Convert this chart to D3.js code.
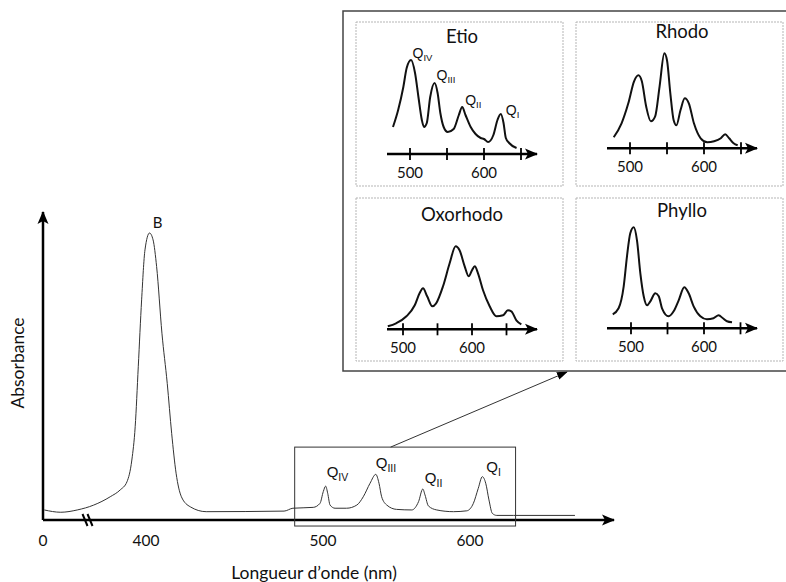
<!DOCTYPE html>
<html>
<head>
<meta charset="utf-8">
<script src="https://cdn.jsdelivr.net/npm/d3@7"></script>
<style>
  body { margin: 0; background: #fff; }
  svg { display: block; }
  text { font-family: Lato, "Open Sans", sans-serif; fill: #111; }
  .q { font-family: "Liberation Sans", Arial, sans-serif; }
</style>
</head>
<body>
<svg id="chart" width="786" height="582"></svg>
<script>
// main spectrum (wavelength nm, relative absorbance)
const mainNm = [5, 69, 133, 197, 261, 300, 326, 345, 358, 370, 383, 396, 402, 404, 406, 409, 412, 414.5, 417, 420, 425, 434,
  478, 483, 494.5, 498.3, 500.2, 501.8, 503.2, 504.8, 508.2, 516, 523, 527.4, 532, 535.9, 538.1, 539.9, 543.4, 550, 560.4,
  565, 567.9, 569.4, 571.7, 577.4, 588.7, 597.8, 602.3, 605.6, 608.4, 610.7, 612.9, 615.2, 618.2, 629.5, 671.4];
const mainAbs = [0.035, 0.027, 0.035, 0.052, 0.081, 0.105, 0.133, 0.209, 0.325, 0.534, 0.767, 0.941, 1.0, 0.976, 0.883, 0.651, 0.476, 0.302, 0.163, 0.081, 0.046, 0.029,
  0.031, 0.041, 0.044, 0.058, 0.099, 0.118, 0.093, 0.052, 0.041, 0.041, 0.052, 0.081, 0.128, 0.159, 0.128, 0.081, 0.052, 0.037, 0.035,
  0.064, 0.108, 0.087, 0.049, 0.035, 0.029, 0.032, 0.058, 0.110, 0.151, 0.128, 0.070, 0.023, 0.016, 0.016, 0.016];
const mainTicks = [0, 400, 500, 600];
const qNames = ["IV", "III", "II", "I"];
const mainQNm = [501.8, 535.9, 567.9, 608.4];
const mainQAbs = [0.118, 0.159, 0.108, 0.151];

// inset spectra
const etioNm = [477, 484, 491, 495.5, 501.4, 506.8, 511.4, 516, 519, 522.7, 527.3, 533.2, 537.3, 541, 545.5, 551, 559, 566, 570.5, 575,
  582, 588.6, 595.5, 600, 605.5, 612.7, 618.2, 622.7, 626.4, 629.5, 634, 644];
const etioAbs = [0.27, 0.44, 0.67, 0.86, 0.94, 0.81, 0.57, 0.34, 0.27, 0.31, 0.57, 0.71, 0.61, 0.41, 0.27, 0.22, 0.25, 0.39, 0.47, 0.39,
  0.27, 0.20, 0.16, 0.15, 0.12, 0.19, 0.34, 0.40, 0.31, 0.16, 0.11, 0.06];
const etioQNm = [501.4, 533.2, 570.5, 622.7];
const etioQAbs = [0.94, 0.71, 0.47, 0.40];

const rhodoNm = [478, 488.6, 497.7, 505.5, 511.4, 516, 521.8, 528.2, 534, 540, 546.4, 550, 554.5, 559, 562.7, 568.2, 574, 579.5, 586.4,
  595.5, 604.5, 613.6, 622.7, 628.6, 634, 640, 645.5];
const rhodoAbs = [0.11, 0.25, 0.45, 0.67, 0.73, 0.67, 0.42, 0.27, 0.32, 0.62, 0.95, 0.88, 0.55, 0.28, 0.23, 0.38, 0.50, 0.45, 0.25,
  0.10, 0.06, 0.07, 0.10, 0.14, 0.10, 0.05, 0.03];

const oxoNm = [478, 490, 505, 517, 524, 529, 535, 542.5, 548, 558, 567.6, 576.3, 582, 589.4, 595.2, 600, 604, 608.7, 616, 625.6,
  635.3, 645, 652, 657, 664.3, 671.5];
const oxoAbs = [0.03, 0.06, 0.13, 0.24, 0.36, 0.41, 0.33, 0.23, 0.26, 0.43, 0.66, 0.83, 0.79, 0.63, 0.53, 0.59, 0.63, 0.56, 0.39, 0.23,
  0.13, 0.14, 0.19, 0.18, 0.09, 0.05];

const phylloNm = [475, 483, 490, 494.5, 499, 503.7, 508.2, 512.8, 517.4, 522, 526.5, 533.3, 538, 542.5, 551.6, 558.4, 565.3, 573, 579,
  585.8, 595, 604, 613, 620, 626, 631.5, 638.4];
const phylloAbs = [0.14, 0.20, 0.42, 0.72, 0.95, 1.01, 0.88, 0.55, 0.32, 0.23, 0.27, 0.35, 0.32, 0.20, 0.12, 0.17, 0.28, 0.41, 0.35,
  0.22, 0.12, 0.09, 0.10, 0.13, 0.10, 0.07, 0.06];

const insetTicks = [500, 550, 600, 650];
const insetTickLabels = [500, 600];

const svg = d3.select('#chart');
const defs = svg.append('defs');

defs.append('marker')
  .attr('id', 'arrowBig').attr('markerUnits', 'userSpaceOnUse')
  .attr('viewBox', '-12 -6 14 12').attr('refX', 0).attr('refY', 0)
  .attr('markerWidth', 14).attr('markerHeight', 12).attr('orient', 'auto')
  .append('path').attr('d', 'M-12,-5.5 L1,0 L-12,5.5 L-9,0 Z').attr('fill', '#000');

defs.append('marker')
  .attr('id', 'arrowThin').attr('markerUnits', 'userSpaceOnUse')
  .attr('viewBox', '-10 -5 12 10').attr('refX', 0).attr('refY', 0)
  .attr('markerWidth', 12).attr('markerHeight', 10).attr('orient', 'auto')
  .append('path').attr('d', 'M-10,-4 L1,0 L-10,4 Z').attr('fill', '#000');

// ---------- main chart ----------
const x = d3.scaleLinear().domain([0, 400, 500, 600, 700]).range([43, 146, 323, 470, 617]);
const y = d3.scaleLinear().domain([0, 1]).range([520, 233]);

const mainData = mainNm.map((d, i) => ({ nm: d, a: mainAbs[i] }));

const main = svg.append('g');

// axes
main.append('line')
  .attr('x1', x(0)).attr('x2', 614).attr('y1', y(0)).attr('y2', y(0))
  .attr('stroke', '#000').attr('stroke-width', 2.5).attr('marker-end', 'url(#arrowBig)');
main.append('line')
  .attr('x1', x(0)).attr('x2', x(0)).attr('y1', y(0)).attr('y2', 212)
  .attr('stroke', '#000').attr('stroke-width', 2.5).attr('marker-end', 'url(#arrowBig)');

// axis break
[85, 90].forEach(bx => {
  main.append('line')
    .attr('x1', bx - 2.5).attr('y1', y(0) - 6).attr('x2', bx + 2.5).attr('y2', y(0) + 6)
    .attr('stroke', '#000').attr('stroke-width', 2);
});

main.selectAll('text.tick')
  .data(mainTicks)
  .join('text')
  .attr('class', 'tick')
  .attr('x', d => x(d))
  .attr('y', 546)
  .attr('text-anchor', 'middle')
  .attr('font-size', 15.5)
  .text(d => d);

main.append('text')
  .attr('x', 314).attr('y', 579)
  .attr('text-anchor', 'middle').attr('font-size', 17.5)
  .text('Longueur d’onde (nm)');

main.append('text')
  .attr('transform', 'translate(24,363) rotate(-90)')
  .attr('text-anchor', 'middle').attr('font-size', 17.5)
  .text('Absorbance');

const line = d3.line().x(d => x(d.nm)).y(d => y(d.a)).curve(d3.curveMonotoneX);
main.append('path')
  .datum(mainData)
  .attr('d', line)
  .attr('fill', 'none')
  .attr('stroke', '#333')
  .attr('stroke-width', 1);

// B label at Soret maximum
const bIdx = d3.maxIndex(mainAbs);
main.append('text')
  .attr('x', x(mainNm[bIdx]) + 8).attr('y', y(mainAbs[bIdx]) - 5)
  .attr('text-anchor', 'middle').attr('font-size', 15)
  .text('B');

// Q labels
const mainQOff = [[1, -9], [0, -6], [2, -6], [4, -5]];
qNames.forEach((q, i) => {
  const t = main.append('text').attr('class', 'q')
    .attr('x', x(mainQNm[i]) + mainQOff[i][0])
    .attr('y', y(mainQAbs[i]) + mainQOff[i][1])
    .attr('font-size', 15);
  t.append('tspan').text('Q');
  t.append('tspan').attr('font-size', 10.5).attr('dy', 4).text(q);
});

// zoom box and connector
const boxNm = [484, 631];
const boxAbs = [-0.021, 0.254];
main.append('rect')
  .attr('x', x(boxNm[0])).attr('y', y(boxAbs[1]))
  .attr('width', x(boxNm[1]) - x(boxNm[0]))
  .attr('height', y(boxAbs[0]) - y(boxAbs[1]))
  .attr('fill', 'none').attr('stroke', '#333').attr('stroke-width', 1);

main.append('line')
  .attr('x1', x(546)).attr('y1', y(boxAbs[1]))
  .attr('x2', 567).attr('y2', 372)
  .attr('stroke', '#333').attr('stroke-width', 1)
  .attr('marker-end', 'url(#arrowThin)');

// ---------- insets ----------
const inset = svg.append('g');
inset.append('rect')
  .attr('x', 343).attr('y', 11).attr('width', 460).attr('height', 360)
  .attr('fill', '#fff').attr('stroke', '#444').attr('stroke-width', 1.5);

const panels = [
  { name: 'Etio', nm: etioNm, abs: etioAbs, px: 356, py: 22, h: 164, axisY: 132, x500: 54, x600: 128, titleY: 21, q: true },
  { name: 'Rhodo', nm: rhodoNm, abs: rhodoAbs, px: 576, py: 22, h: 164, axisY: 126.3, x500: 54, x600: 128, titleY: 16 },
  { name: 'Oxorhodo', nm: oxoNm, abs: oxoAbs, px: 356, py: 198, h: 163, axisY: 131.3, x500: 47, x600: 116, titleY: 22.7 },
  { name: 'Phyllo', nm: phylloNm, abs: phylloAbs, px: 576, py: 198, h: 163, axisY: 130.3, x500: 55, x600: 128, titleY: 18.7 }
];

panels.forEach(p => {
  const g = inset.append('g').attr('transform', `translate(${p.px},${p.py})`);
  g.append('rect')
    .attr('width', 207).attr('height', p.h)
    .attr('fill', '#fff').attr('stroke', '#b5b5b5')
    .attr('stroke-width', 1).attr('stroke-dasharray', '2,1');

  const sx = d3.scaleLinear().domain([500, 600]).range([p.x500, p.x600]);
  const sy = d3.scaleLinear().domain([0, 1]).range([p.axisY, p.axisY - 100]);

  g.append('text')
    .attr('x', 106).attr('y', p.titleY)
    .attr('text-anchor', 'middle').attr('font-size', 18.5)
    .text(p.name);

  g.append('line')
    .attr('x1', 31).attr('x2', 181).attr('y1', p.axisY).attr('y2', p.axisY)
    .attr('stroke', '#000').attr('stroke-width', 2.5)
    .attr('marker-end', 'url(#arrowBig)');

  g.selectAll('line.tk')
    .data(insetTicks)
    .join('line')
    .attr('class', 'tk')
    .attr('x1', d => sx(d)).attr('x2', d => sx(d))
    .attr('y1', p.axisY - 6).attr('y2', p.axisY + 6)
    .attr('stroke', '#000').attr('stroke-width', 1.8);

  g.selectAll('text.tl')
    .data(insetTickLabels)
    .join('text')
    .attr('class', 'tl')
    .attr('x', d => sx(d)).attr('y', p.axisY + 23.5)
    .attr('text-anchor', 'middle').attr('font-size', 15)
    .text(d => d);

  const data = p.nm.map((d, i) => ({ nm: d, a: p.abs[i] }));
  g.append('path')
    .datum(data)
    .attr('d', d3.line().x(d => sx(d.nm)).y(d => sy(d.a)).curve(d3.curveMonotoneX))
    .attr('fill', 'none').attr('stroke', '#111').attr('stroke-width', 2)
    .attr('stroke-linejoin', 'round');

  if (p.q) {
    const off = [[1.5, -2], [2, -3], [3, -2], [5, 1]];
    qNames.forEach((q, i) => {
      const t = g.append('text').attr('class', 'q')
        .attr('x', sx(etioQNm[i]) + off[i][0])
        .attr('y', sy(etioQAbs[i]) + off[i][1])
        .attr('font-size', 14);
      t.append('tspan').text('Q');
      t.append('tspan').attr('font-size', 9.5).attr('dy', 3).text(q);
    });
  }
});
</script>
</body>
</html>
